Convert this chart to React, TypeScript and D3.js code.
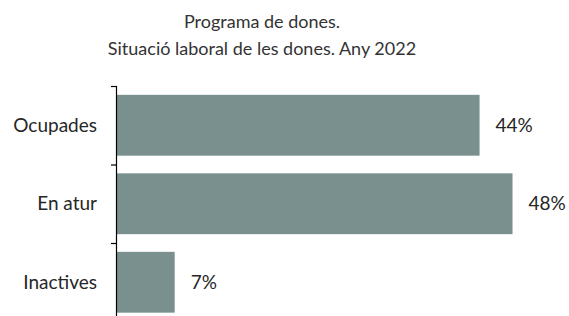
import React from "react";
import * as d3 from "d3";

const categories = ["Ocupades", "En atur", "Inactives"];
const values = [44, 48, 7];
const valueLabels = ["44%", "48%", "7%"];
const titleLines = ["Programa de dones.", "Situació laboral de les dones. Any 2022"];

const W = 569;
const H = 316;
const FONT = "Lato, 'Open Sans', sans-serif";

export default function App() {
  const axisX = 116.5;
  const x = d3.scaleLinear().domain([0, 50]).range([117, 117 + 8.24 * 50]);
  const y = d3
    .scaleBand<string>()
    .domain(categories)
    .range([86, 86 + 78.5 * 3])
    .paddingInner(0.225)
    .paddingOuter(0.1125);
  const ticks = [0, 1, 2, 3].map((i) => 86 + 78.5 * i);

  return (
    <svg
      width={W}
      height={H}
      style={{ position: "absolute", left: 0, top: 0, background: "#fff" }}
      fontFamily={FONT}
    >
      <rect width={W} height={H} fill="#fff" />
      {titleLines.map((t, i) => (
        <text
          key={i}
          x={262}
          y={28 + i * 27}
          textAnchor="middle"
          fontSize={18}
          fill="#333"
        >
          {t}
        </text>
      ))}
      {categories.map((c, i) => (
        <g key={c}>
          <rect
            x={x(0)}
            y={y(c)!}
            width={x(values[i]) - x(0)}
            height={y.bandwidth()}
            fill="#7a908f"
          />
          <text
            x={x(values[i]) + 16}
            y={y(c)! + y.bandwidth() / 2}
            dy="0.35em"
            fontSize={19}
            fill="#262626"
          >
            {valueLabels[i]}
          </text>
          <text
            x={97}
            y={y(c)! + y.bandwidth() / 2}
            dy="0.35em"
            textAnchor="end"
            fontSize={19}
            fill="#262626"
          >
            {c}
          </text>
        </g>
      ))}
      <line x1={axisX} x2={axisX} y1={86} y2={H + 10} stroke="#000" strokeWidth={1.2} />
      {ticks.map((t, i) => (
        <line key={i} x1={111} x2={axisX} y1={t + 0.5} y2={t + 0.5} stroke="#000" strokeWidth={1.2} />
      ))}
    </svg>
  );
}
